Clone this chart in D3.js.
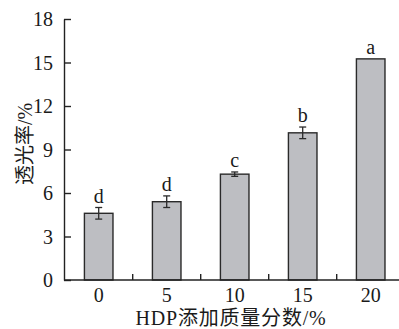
<!DOCTYPE html>
<html>
<head>
<meta charset="utf-8">
<script src="https://cdn.jsdelivr.net/npm/d3@7"></script>
<style>
  html, body { margin: 0; padding: 0; background: #fff; }
  svg { display: block; }
  text { font-family: "Liberation Serif", "Noto Sans CJK SC", serif; fill: #1a1a1a; }
</style>
</head>
<body>
<svg id="chart" width="399" height="329"></svg>
<script>
// HDP addition (mass fraction, %) vs. light transmittance (%)
const categories = ["0", "5", "10", "15", "20"];
const transmittance = [4.6, 5.4, 7.3, 10.15, 15.25];
const errors = [0.4, 0.4, 0.15, 0.4, 0];
const letters = ["d", "d", "c", "b", "a"];
const yTicks = [0, 3, 6, 9, 12, 15, 18];

const svg = d3.select("#chart");
const axisColor = "#222";
const fontSize = 20;

const x = d3.scaleBand()
  .domain(categories)
  .range([64.7, 404.7])
  .paddingInner(0.58)
  .paddingOuter(0.29);

const y = d3.scaleLinear()
  .domain([0, 18])
  .range([280, 19]);

const x0 = 64, x1 = 399;

// Bars
svg.append("g").selectAll("rect")
  .data(categories)
  .join("rect")
  .attr("x", d => x(d))
  .attr("width", x.bandwidth())
  .attr("y", (d, i) => y(transmittance[i]))
  .attr("height", (d, i) => y(0) - y(transmittance[i]))
  .attr("fill", "#bdbec2")
  .attr("stroke", "#2a2a2a")
  .attr("stroke-width", 1.4);

// Error bars
const eg = svg.append("g").attr("stroke", "#2a2a2a").attr("stroke-width", 1.3);
categories.forEach((c, i) => {
  if (!errors[i]) return;
  const cx = x(c) + x.bandwidth() / 2;
  const top = y(transmittance[i] + errors[i]);
  const bot = y(transmittance[i] - errors[i]);
  eg.append("line").attr("x1", cx).attr("x2", cx).attr("y1", top).attr("y2", bot);
  eg.append("line").attr("x1", cx - 3.5).attr("x2", cx + 3.5).attr("y1", top).attr("y2", top);
  eg.append("line").attr("x1", cx - 3.5).attr("x2", cx + 3.5).attr("y1", bot).attr("y2", bot);
});

// Significance letters
svg.append("g").selectAll("text")
  .data(categories)
  .join("text")
  .attr("x", d => x(d) + x.bandwidth() / 2)
  .attr("y", (d, i) => y(transmittance[i] + errors[i]) - 5)
  .attr("text-anchor", "middle")
  .attr("font-size", fontSize)
  .text((d, i) => letters[i]);

// Y axis with inward ticks
const yAxis = d3.axisLeft(y).tickValues(yTicks).tickSize(-7).tickPadding(11).tickSizeOuter(0);
const gy = svg.append("g").attr("transform", `translate(${x0},0)`).call(yAxis);
gy.select(".domain").attr("stroke", axisColor).attr("stroke-width", 1.4);
gy.selectAll(".tick line").attr("stroke", axisColor).attr("stroke-width", 1.4);
gy.selectAll(".tick text").attr("font-size", fontSize).attr("font-family", null).attr("fill", "#1a1a1a").attr("dy", "0.34em");

// X axis: labels at band centers, ticks at band boundaries
const gx = svg.append("g").attr("transform", `translate(0,${y(0)})`);
gx.append("line").attr("x1", x0).attr("x2", x1).attr("y1", 0).attr("y2", 0)
  .attr("stroke", axisColor).attr("stroke-width", 1.4);
const step = x.step();
categories.slice(1).forEach(c => {
  const bx = x(c) - step * x.paddingInner() / 2;
  gx.append("line").attr("x1", bx).attr("x2", bx).attr("y1", 0).attr("y2", -6)
    .attr("stroke", axisColor).attr("stroke-width", 1.4);
});
gx.selectAll("text.lbl")
  .data(categories)
  .join("text")
  .attr("class", "lbl")
  .attr("x", d => x(d) + x.bandwidth() / 2)
  .attr("y", 22)
  .attr("text-anchor", "middle")
  .attr("font-size", fontSize)
  .text(d => d);

// Axis titles
svg.append("text")
  .attr("x", 231)
  .attr("y", 325)
  .attr("text-anchor", "middle")
  .attr("font-size", fontSize)
  .attr("letter-spacing", "0.8px")
  .text("HDP添加质量分数/%");

svg.append("text")
  .attr("transform", "translate(32,144) rotate(-90)")
  .attr("text-anchor", "middle")
  .attr("font-size", fontSize)
  .text("透光率/%");
</script>
</body>
</html>
